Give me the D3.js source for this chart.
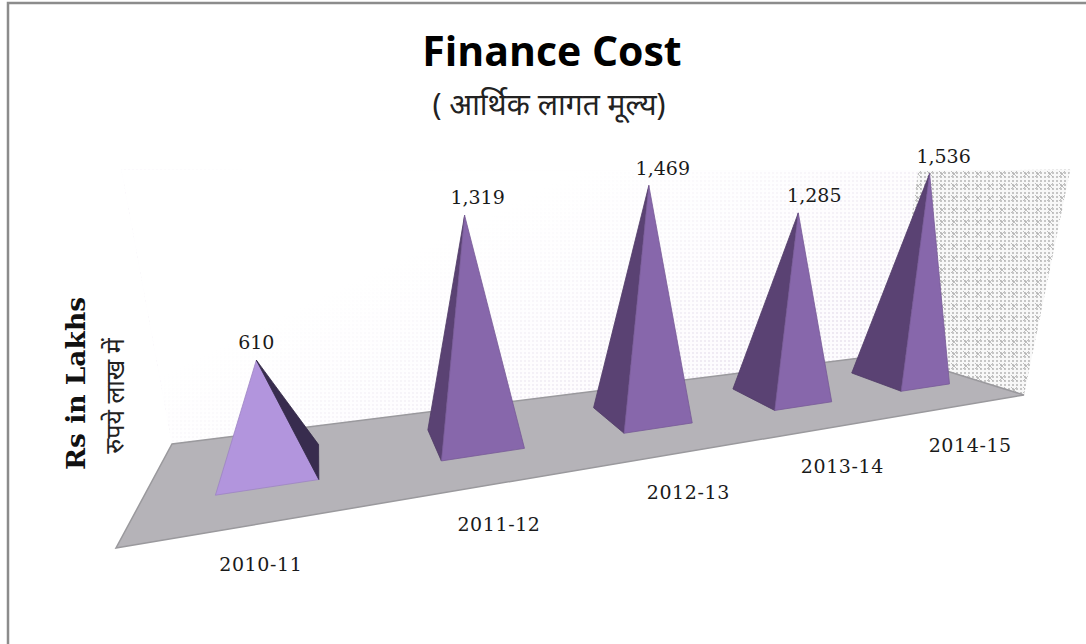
<!DOCTYPE html>
<html><head><meta charset="utf-8">
<script src="https://cdnjs.cloudflare.com/ajax/libs/d3/7.8.5/d3.min.js"></script>
<style>html,body{margin:0;padding:0;background:#fff}svg{display:block}</style></head>
<body><svg id="c" width="1086" height="644"></svg>
<script>
const categories = ["2010-11","2011-12","2012-13","2013-14","2014-15"];
const values = [610,1319,1469,1285,1536];
const valueLabels = ["610","1,319","1,469","1,285","1,536"];
const frontColors = ["#b295dd","#8767ab","#8767ab","#8767ab","#8767ab"];
const leftColors = ["#5a4273","#5a4273","#5a4273","#5a4273","#5a4273"];
const rightColor = "#382c4e";
const labelShift = [0,13,14,16,14];
const axisMax = 1560;

const W=1086,H=644;
const svg=d3.select("#c");
// floor quad in screen space: front-left, front-right, back-right, back-left
const floor=[[116,548],[1024,395],[892,354],[172,444]];
const vanish=[570,2600];
const hom=(function(q){
  const [p0,p1,p2,p3]=q;
  const dx1=p1[0]-p2[0],dx2=p3[0]-p2[0],sx=p0[0]-p1[0]+p2[0]-p3[0];
  const dy1=p1[1]-p2[1],dy2=p3[1]-p2[1],sy=p0[1]-p1[1]+p2[1]-p3[1];
  const den=dx1*dy2-dx2*dy1;
  const g=(sx*dy2-dx2*sy)/den,h=(dx1*sy-sx*dy1)/den;
  return {a:p1[0]-p0[0]+g*p1[0],b:p3[0]-p0[0]+h*p3[0],c:p0[0],
          d:p1[1]-p0[1]+g*p1[1],e:p3[1]-p0[1]+h*p3[1],f:p0[1],g,h};
})(floor);
const xBand=d3.scaleBand().domain(categories).range([0.002,1.008]).paddingInner(0.57).paddingOuter(0.285);
const yVal=d3.scaleLinear().domain([0,axisMax]).range([0,0.1565]);
function proj(u,v,val=0){
  const w=hom.g*u+hom.h*v+1;
  const x=(hom.a*u+hom.b*v+hom.c)/w, y=(hom.d*u+hom.e*v+hom.f)/w;
  const r=w/(w-yVal(val));
  return [vanish[0]+(x-vanish[0])*r, vanish[1]+(y-vanish[1])*r];
}
const line=d3.line();
const defs=svg.append("defs");
const p1=defs.append("pattern").attr("id","dots").attr("width",4).attr("height",4).attr("patternUnits","userSpaceOnUse");
p1.append("rect").attr("width",4).attr("height",4).attr("fill","#fdfbfe");
p1.append("rect").attr("width",2).attr("height",2).attr("fill","#ebe5f0");
const p2=defs.append("pattern").attr("id","hatch").attr("width",12).attr("height",12).attr("patternUnits","userSpaceOnUse");
p2.append("rect").attr("width",12).attr("height",12).attr("fill","#f8f8f8");
[0,4,8].forEach(x=>[0,4,8].forEach(y=>p2.append("rect").attr("x",x).attr("y",y).attr("width",2).attr("height",2).attr("fill","#c6c6c6")));
p2.append("path").attr("d","M3 3l6 6M9 3l-6 6").attr("stroke","#b0b0b0").attr("stroke-width",.8);
const g1=defs.append("linearGradient").attr("id","fadeUp").attr("gradientUnits","userSpaceOnUse")
  .attr("x1",395).attr("y1",260).attr("x2",505).attr("y2",485);
g1.append("stop").attr("offset","0%").attr("stop-color","#fff").attr("stop-opacity",1);
g1.append("stop").attr("offset","100%").attr("stop-color","#fff").attr("stop-opacity",.15);

// frame
svg.append("path").attr("d",`M8 ${H}V3H${W}`).attr("fill","none").attr("stroke","#8c8c8c").attr("stroke-width",2.5);

// walls
const backWall=[proj(0,1),proj(1,1),proj(1,1,axisMax),proj(0,1,axisMax)];
const sideWall=[proj(1,1),proj(1,0),proj(1,0,axisMax),proj(1,1,axisMax)];
svg.append("path").attr("d",line(backWall)+"Z").attr("fill","url(#dots)");
svg.append("path").attr("d",line(backWall)+"Z").attr("fill","url(#fadeUp)");
svg.append("path").attr("d",line(sideWall)+"Z").attr("fill","url(#hatch)");
// floor
svg.append("path").attr("d",line([[0,0],[1,0],[1,1],[0,1]].map(d=>proj(d[0],d[1])))+"Z")
  .attr("fill","#b5b3b8").attr("stroke","#9a999d").attr("stroke-width",1.5);

// pyramids
const v0=0.32,v1=0.73;
const data=categories.map((c,i)=>({c,i,val:values[i],u0:xBand(c),u1:xBand(c)+xBand.bandwidth()}));
const pyr=svg.append("g");
data.forEach(d=>{
  const a=proj(d.u0,v0),b=proj(d.u1,v0),c=proj(d.u1,v1),e=proj(d.u0,v1);
  const apex=proj((d.u0+d.u1)/2,(v0+v1)/2,d.val);
  d.apex=apex;
  const faces=[[e,a,leftColors[d.i]],[a,b,frontColors[d.i]],[b,c,rightColor]];
  faces.forEach(([p,q,col])=>{
    const area=(q[0]-p[0])*(apex[1]-p[1])-(q[1]-p[1])*(apex[0]-p[0]);
    if(area<0){
      pyr.append("path").attr("d",line([p,q,apex])+"Z").attr("fill",col).attr("stroke",d3.color(col).darker(.35)).attr("stroke-width",.8).attr("stroke-linejoin","round");
    }
  });
});

// value labels
const serif='"DejaVu Serif",serif';
svg.append("g").selectAll("text").data(data).join("text")
  .attr("x",d=>d.apex[0]+labelShift[d.i]).attr("y",d=>d.apex[1]-11)
  .attr("text-anchor","middle").attr("font-family",serif).attr("font-size",19).attr("fill","#1a1a1a")
  .text(d=>valueLabels[d.i]);
// category labels
svg.append("g").selectAll("text").data(data).join("text")
  .attr("x",d=>proj((d.u0+d.u1)/2,0)[0]-2).attr("y",d=>proj((d.u0+d.u1)/2,0)[1]+48)
  .attr("text-anchor","middle").attr("font-family",serif).attr("font-size",19).attr("letter-spacing",.6).attr("fill","#1a1a1a")
  .text(d=>d.c);
// titles
svg.append("text").attr("x",552).attr("y",66).attr("text-anchor","middle")
  .attr("font-family",'"Open Sans","Noto Sans",sans-serif').attr("font-weight",700).attr("font-size",41).attr("fill","#000").text("Finance Cost");
svg.append("text").attr("x",549).attr("y",115).attr("text-anchor","middle")
  .attr("font-family",'"Noto Sans","Open Sans",sans-serif').attr("font-size",30).attr("fill","#222").text("( आर्थिक लागत मूल्य)");
svg.append("text").attr("transform","translate(85,470) rotate(-90)")
  .attr("font-family",serif).attr("font-weight",700).attr("font-size",26.5).attr("fill","#111").text("Rs in Lakhs");
svg.append("text").attr("transform","translate(124,396) rotate(-90)").attr("text-anchor","middle")
  .attr("font-family",'"Noto Sans",sans-serif').attr("font-size",25).attr("fill","#222").text("रुपये लाख में");
</script></body></html>
